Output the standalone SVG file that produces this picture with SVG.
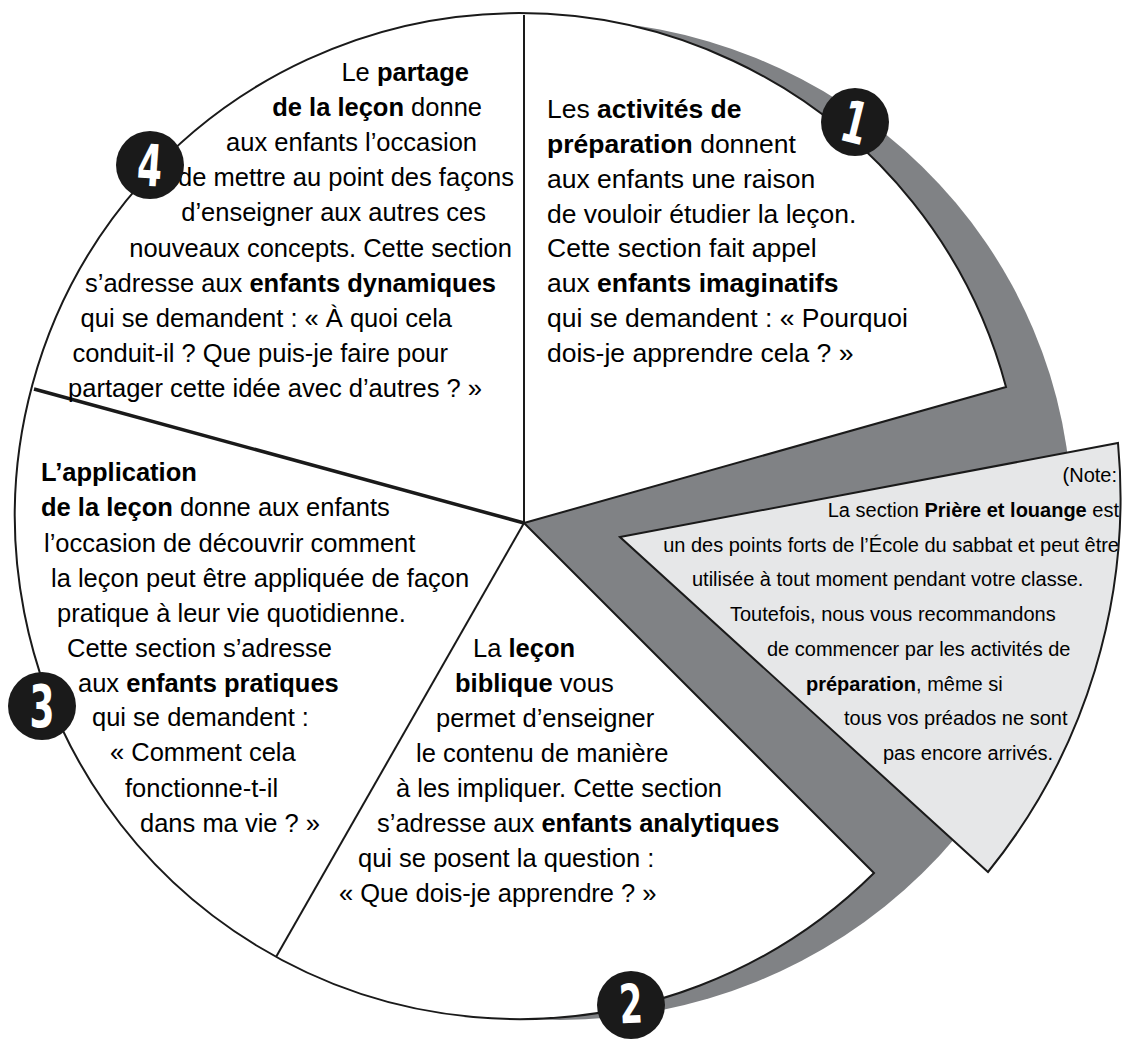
<svg xmlns="http://www.w3.org/2000/svg" width="1125" height="1040" viewBox="0 0 1125 1040">
<style>
.t { font-family: "Liberation Sans", Arial, sans-serif; fill: #000; }
.s1 { font-size: 26.5px; }
.s2 { font-size: 25.5px; }
.s3 { font-size: 25.5px; }
.n { font-size: 20px; }
.e { text-anchor: end; }
.b { font-weight: bold; }
.badge circle { fill: #1a1a1a; }
.badge text { font-family: "DejaVu Sans", sans-serif; font-weight: bold; font-size: 58px; fill: #fff; text-anchor: middle; }
.ln { stroke: #1a1a1a; stroke-width: 2; fill: none; }
</style>
<rect width="1125" height="1040" fill="#fff"/>
<g id="band">
  <ellipse cx="560" cy="520" rx="512" ry="500" fill="#808285"/>
</g>
<g id="pie">
  <path d="M524,523 L1006,387 A504,503 0 1 0 874,873 Z" fill="#fff" stroke="#1a1a1a" stroke-width="2"/>
</g>
<g id="dividers">
  <line class="ln" x1="524" y1="15" x2="524" y2="523"/>
  <line class="ln" x1="34" y1="389" x2="524" y2="523" style="stroke-width:3.5"/>
  <line class="ln" x1="524" y1="523" x2="276" y2="957"/>
</g>
<g id="note">
  <path d="M620,537 L1118,443 A595,595 0 0 1 988,872 Z" fill="#e6e7e8" stroke="#1a1a1a" stroke-width="2"/>
  <g class="t n">
    <text class="e" x="1117" y="482">(Note:</text>
    <text class="e" x="1119" y="517">La section <tspan class="b">Prière et louange</tspan> est</text>
    <text class="e" x="1119" y="552">un des points forts de l’École du sabbat et peut être</text>
    <text x="692" y="586">utilisée à tout moment pendant votre classe.</text>
    <text x="730" y="621">Toutefois, nous vous recommandons</text>
    <text x="767" y="656">de commencer par les activités de</text>
    <text x="806" y="691"><tspan class="b">préparation</tspan>, même si</text>
    <text x="844" y="725">tous vos préados ne sont</text>
    <text x="883" y="760">pas encore arrivés.</text>
  </g>
</g>
<g id="section1" class="t s1">
  <text x="547" y="118">Les <tspan class="b">activités de</tspan></text>
  <text x="547" y="153"><tspan class="b">préparation</tspan> donnent</text>
  <text x="547" y="188">aux enfants une raison</text>
  <text x="547" y="223">de vouloir étudier la leçon.</text>
  <text x="547" y="257">Cette section fait appel</text>
  <text x="547" y="292">aux <tspan class="b">enfants imaginatifs</tspan></text>
  <text x="547" y="327">qui se demandent : « Pourquoi</text>
  <text x="547" y="362">dois-je apprendre cela ? »</text>
</g>
<g id="section2" class="t s2">
  <text x="473" y="657">La <tspan class="b">leçon</tspan></text>
  <text x="455" y="692"><tspan class="b">biblique</tspan> vous</text>
  <text x="436" y="727">permet d’enseigner</text>
  <text x="416" y="762">le contenu de manière</text>
  <text x="396" y="797">à les impliquer. Cette section</text>
  <text x="377" y="832">s’adresse aux <tspan class="b">enfants analytiques</tspan></text>
  <text x="358" y="867">qui se posent la question :</text>
  <text x="339" y="902">« Que dois-je apprendre ? »</text>
</g>
<g id="section3" class="t s3">
  <text x="41" y="481"><tspan class="b">L’application</tspan></text>
  <text x="41" y="516"><tspan class="b">de la leçon</tspan> donne aux enfants</text>
  <text x="44" y="552">l’occasion de découvrir comment</text>
  <text x="51" y="587">la leçon peut être appliquée de façon</text>
  <text x="57" y="622">pratique à leur vie quotidienne.</text>
  <text x="67" y="657">Cette section s’adresse</text>
  <text x="78" y="692">aux <tspan class="b">enfants pratiques</tspan></text>
  <text x="92" y="726">qui se demandent :</text>
  <text x="110" y="761">« Comment cela</text>
  <text x="125" y="797">fonctionne-t-il</text>
  <text x="140" y="832">dans ma vie ? »</text>
</g>
<g id="section4" class="t s3 e">
  <text x="469" y="81">Le <tspan class="b">partage</tspan></text>
  <text x="482" y="116"><tspan class="b">de la leçon</tspan> donne</text>
  <text x="477" y="151">aux enfants l’occasion</text>
  <text x="514" y="186">de mettre au point des façons</text>
  <text x="486" y="221">d’enseigner aux autres ces</text>
  <text x="512" y="257">nouveaux concepts. Cette section</text>
  <text x="496" y="292">s’adresse aux <tspan class="b">enfants dynamiques</tspan></text>
  <text x="452" y="327">qui se demandent : « À quoi cela</text>
  <text x="448" y="362">conduit-il ? Que puis-je faire pour</text>
  <text x="482" y="397">partager cette idée avec d’autres ? »</text>
</g>
<g id="badge1" class="badge">
  <circle cx="855" cy="122" r="34"/>
  <text transform="translate(855 122) rotate(14) scale(0.62 1)" x="0" y="21">1</text>
</g>
<g id="badge2" class="badge">
  <circle cx="631" cy="1005" r="34"/>
  <text transform="translate(631 1005) rotate(-3) scale(0.62 1)" x="0" y="18" style="font-size:54px">2</text>
</g>
<g id="badge3" class="badge">
  <circle cx="42" cy="706" r="34"/>
  <text transform="translate(42 706) scale(0.62 1)" x="0" y="21">3</text>
</g>
<g id="badge4" class="badge">
  <circle cx="150" cy="165" r="34"/>
  <text transform="translate(150 165) rotate(4) scale(0.62 1)" x="0" y="21">4</text>
</g>
</svg>
